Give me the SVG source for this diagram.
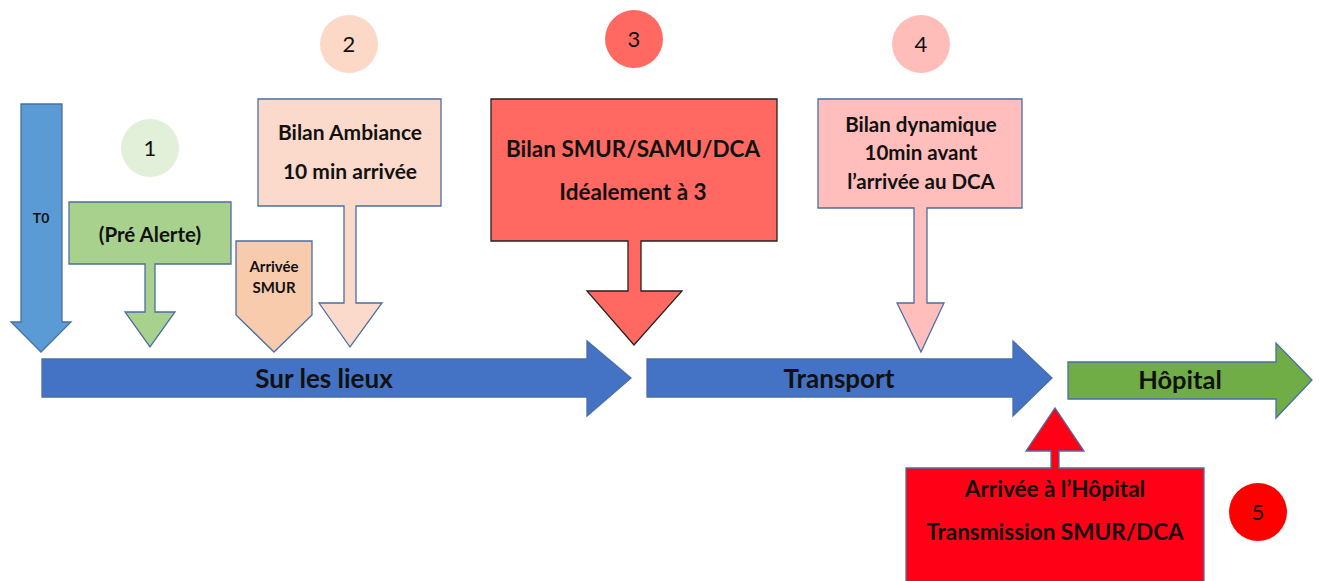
<svg xmlns="http://www.w3.org/2000/svg" width="1319" height="581" viewBox="0 0 1319 581">
<style>
  .shape { stroke: #4A6FA5; stroke-width: 1.3; }
  .blk { stroke: #222; stroke-width: 1.3; }
  .t { font-family: Lato, "Open Sans", "Liberation Sans", sans-serif; font-weight: bold; fill: #111; text-anchor: middle; }
  .n { font-family: Lato, "Open Sans", "Liberation Sans", sans-serif; font-size: 22px; fill: #111; text-anchor: middle; }
</style>
<rect width="1319" height="581" fill="#ffffff"/>

<g id="connectors">
  <g id="sur-les-lieux">
    <polygon class="shape" fill="#4472C4" points="42,359 587,359 587,341 631,378 587,416 587,397 42,397"/>
    <text class="t" x="324" y="388" font-size="26">Sur les lieux</text>
  </g>
  <g id="transport">
    <polygon class="shape" fill="#4472C4" points="647,359 1013,359 1013,341 1052,378 1013,416 1013,397 647,397"/>
    <text class="t" x="839" y="388" font-size="26">Transport</text>
  </g>
  <g id="hopital">
    <polygon class="shape" fill="#70AD47" points="1068,362 1276,362 1276,343 1312,380 1276,418 1276,399 1068,399"/>
    <text class="t" x="1180" y="389" font-size="25.5">Hôpital</text>
  </g>
</g>

<g id="t0">
  <polygon class="shape" fill="#5B9BD5" points="21,104 62,104 62,322 71,322 41,352 11,322 21,322"/>
  <text class="t" x="41" y="223" font-size="14">T0</text>
</g>

<g id="step1">
  <circle cx="150" cy="148" r="29" fill="#E2F0D9"/>
  <text class="n" x="150" y="156">1</text>
</g>

<g id="pre-alerte">
  <polygon class="shape" fill="#A9D18E" points="69,202 231,202 231,264 155,264 155,312 175,312 150,347 125,312 145,312 145,264 69,264"/>
  <text class="t" x="150" y="242" font-size="20.5">(Pré Alerte)</text>
</g>

<g id="arrivee-smur">
  <polygon class="shape" fill="#F8CBAD" points="236,241 312,241 312,315 274,352 236,315"/>
  <text class="t" x="274" y="272" font-size="15">Arrivée</text>
  <text class="t" x="274" y="293" font-size="15">SMUR</text>
</g>

<g id="step2">
  <circle cx="349" cy="44" r="29" fill="#FBD9C6"/>
  <text class="n" x="349" y="52">2</text>
</g>

<g id="bilan-ambiance">
  <polygon class="shape" fill="#FBDACB" points="258,99 441,99 441,206 356,206 356,303 382,303 350,347 319,303 344,303 344,206 258,206"/>
  <text class="t" x="350" y="140" font-size="21">Bilan Ambiance</text>
  <text class="t" x="350" y="179" font-size="21">10 min arrivée</text>
</g>

<g id="step3">
  <circle cx="634" cy="39" r="29" fill="#FF6961"/>
  <text class="n" x="634" y="47">3</text>
</g>

<g id="bilan-smur">
  <polygon class="blk" fill="#FF6961" points="491,99 777,99 777,241 641,241 641,291 682,291 634,345 587,291 628,291 628,241 491,241"/>
  <text class="t" x="633" y="157" font-size="22.5">Bilan SMUR/SAMU/DCA</text>
  <text class="t" x="633" y="200" font-size="22.5">Idéalement à 3</text>
</g>

<g id="step4">
  <circle cx="921" cy="44" r="29" fill="#FFBDBA"/>
  <text class="n" x="921" y="52">4</text>
</g>

<g id="bilan-dynamique">
  <polygon class="shape" fill="#FFBEBC" points="818,99 1022,99 1022,208 927,208 927,303 944,303 921,352 897,303 914,303 914,208 818,208"/>
  <text class="t" x="921" y="132" font-size="20.5">Bilan dynamique</text>
  <text class="t" x="921" y="160" font-size="20.5">10min avant</text>
  <text class="t" x="921" y="189" font-size="20.5">l’arrivée au DCA</text>
</g>

<g id="arrivee-hopital">
  <polygon class="shape" fill="#FF0016" points="906,468 1051,468 1051,451 1026,451 1055,408 1084,451 1059,451 1059,468 1204,468 1204,585 906,585"/>
  <text class="t" x="1055" y="497" font-size="22.5">Arrivée à l’Hôpital</text>
  <text class="t" x="1055" y="540" font-size="22.5">Transmission SMUR/DCA</text>
</g>

<g id="step5">
  <circle cx="1258" cy="512" r="29" fill="#FF0000"/>
  <text class="n" x="1258" y="520">5</text>
</g>
</svg>
